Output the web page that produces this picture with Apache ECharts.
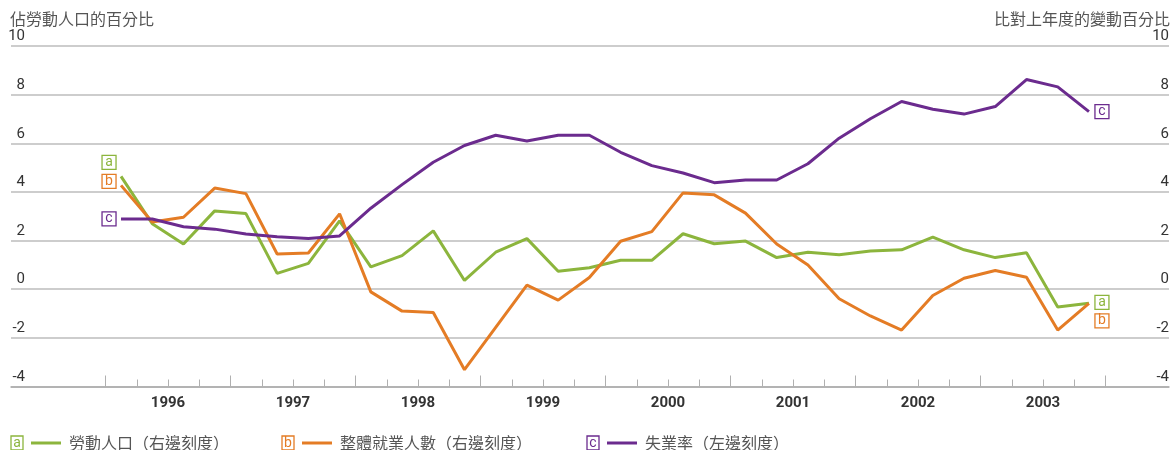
<!DOCTYPE html>
<html>
<head>
<meta charset="utf-8">
<script src="https://cdn.jsdelivr.net/npm/echarts@6/dist/echarts.min.js"></script>
<style>
  html, body { margin: 0; padding: 0; background: #fff; }
  #main { width: 1172px; height: 450px; }
</style>
</head>
<body>
<div id="main"></div>
<script>
// quarterly data, 1996 Q1 .. 2003 Q4
const years = ['1996', '1997', '1998', '1999', '2000', '2001', '2002', '2003'];
const seriesNames = ['勞動人口（右邊刻度）', '整體就業人數（右邊刻度）', '失業率（左邊刻度）'];
const seriesTags = ['a', 'b', 'c'];

// a: labour force, % change over a year earlier (right scale)
const labourForce = [4.64, 2.69, 1.86, 3.22, 3.11, 0.65, 1.06, 2.81,
  0.92, 1.38, 2.40, 0.36, 1.52, 2.08, 0.74, 0.88,
  1.19, 1.19, 2.28, 1.87, 1.98, 1.30, 1.52, 1.42,
  1.57, 1.62, 2.14, 1.62, 1.30, 1.50, -0.73, -0.58];
// b: total employment, % change over a year earlier (right scale)
const employment = [4.27, 2.76, 2.96, 4.16, 3.93, 1.45, 1.49, 3.10,
  -0.11, -0.90, -0.96, -3.31, -1.57, 0.17, -0.45, 0.48,
  1.97, 2.37, 3.96, 3.88, 3.13, 1.86, 1.00, -0.39,
  -1.10, -1.68, -0.26, 0.45, 0.77, 0.49, -1.68, -0.58];
// c: unemployment rate, % of labour force (left scale)
const unemployment = [2.89, 2.89, 2.57, 2.47, 2.27, 2.16, 2.09, 2.19,
  3.33, 4.30, 5.22, 5.91, 6.33, 6.09, 6.33, 6.33,
  5.63, 5.08, 4.78, 4.38, 4.49, 4.49, 5.16, 6.21,
  7.01, 7.72, 7.40, 7.20, 7.51, 8.62, 8.32, 7.30];

const GREEN = '#8cb53d';
const ORANGE = '#e47c25';
const PURPLE = '#6b2b8e';
const GRID_COLOR = '#bdbdbd';
const CJK = '"Noto Sans CJK TC", "Noto Sans", sans-serif';
const NUM = 'Roboto, "Noto Sans", sans-serif';

const quarters = years.flatMap(y => ['Q1', 'Q2', 'Q3', 'Q4'].map(q => y + q));
// x is measured in quarters from the start of 1996; a quarter's point sits mid-band
const toPoints = arr => arr.map((v, i) => [i + 0.5, v]);

const gridTop = 46, gridBottom = 63.5;
const plotLeft = 105.5, quarterPx = 31.25;
const outerLeft = 11, outerRight = 1170;

function tagMarks(letter, color, values, startOff, endOff) {
  const last = values.length - 1;
  return {
    silent: true,
    symbol: 'rect',
    symbolSize: [14, 14],
    itemStyle: { color: '#fff', borderColor: color, borderWidth: 1.3 },
    label: { show: true, formatter: letter, color: color, fontSize: 14, fontFamily: NUM },
    data: [
      { coord: [0.5, values[0]], symbolOffset: startOff },
      { coord: [last + 0.5, values[last]], symbolOffset: endOff }
    ]
  };
}

function legendFor(i, color, left) {
  return {
    data: [seriesNames[i]],
    left: left,
    top: 430,
    icon: 'none',
    itemWidth: 0,
    itemHeight: 16,
    selectedMode: false,
    formatter: name => `{box|${seriesTags[i]}}{gap|}{line|}{gap2|}{txt|${name}}`,
    textStyle: {
      rich: {
        box: { color: color, borderColor: color, borderWidth: 1.3, width: 12, height: 14,
          lineHeight: 14, align: 'center', fontSize: 14, fontFamily: NUM },
        gap: { width: 8 },
        line: { backgroundColor: color, width: 30, height: 3 },
        gap2: { width: 8 },
        txt: { color: '#555', fontSize: 16, fontFamily: CJK }
      }
    }
  };
}

const chart = echarts.init(document.getElementById('main'));

chart.setOption({
  animation: false,
  title: [
    { text: '佔勞動人口的百分比', left: 10, top: 11, padding: 0,
      textStyle: { fontSize: 16, fontWeight: 'normal', color: '#555', fontFamily: CJK } },
    { text: '比對上年度的變動百分比', right: 2, top: 11, padding: 0,
      textStyle: { fontSize: 16, fontWeight: 'normal', color: '#555', fontFamily: CJK } }
  ],
  legend: [
    legendFor(0, GREEN, 1),
    legendFor(1, ORANGE, 272),
    legendFor(2, PURPLE, 577)
  ],
  grid: [
    { left: outerLeft, right: 1172 - outerRight, top: gridTop, bottom: gridBottom },
    { left: plotLeft, width: quarterPx * quarters.length, top: gridTop, bottom: gridBottom }
  ],
  xAxis: [
    {
      gridIndex: 0, type: 'value', position: 'bottom',
      min: (outerLeft - plotLeft) / quarterPx,
      max: (outerRight - plotLeft) / quarterPx,
      axisLine: { show: true, onZero: false, lineStyle: { color: '#aaa', width: 1.5 } },
      axisTick: { show: false },
      axisLabel: { show: false }, splitLine: { show: false }
    },
    {
      gridIndex: 1, type: 'category', position: 'bottom', data: quarters, boundaryGap: true,
      axisLine: { show: false, onZero: false },
      axisTick: { show: true, inside: true, length: 7, interval: 0,
        lineStyle: { color: '#b0b0b0', width: 1 } },
      axisLabel: { show: false }
    },
    {
      gridIndex: 1, type: 'category', position: 'bottom', data: years, boundaryGap: true,
      axisLine: { show: false, onZero: false },
      axisTick: { show: true, inside: true, length: 11, interval: 0,
        lineStyle: { color: '#b0b0b0', width: 1 } },
      axisLabel: { margin: 9, fontSize: 15, fontWeight: 'bold', color: '#333', fontFamily: NUM }
    }
  ],
  yAxis: [
    {
      gridIndex: 0, type: 'value', position: 'left', min: -4, max: 10, interval: 2,
      axisLine: { show: false }, axisTick: { show: false },
      splitLine: { lineStyle: { color: GRID_COLOR, width: 1.5 } },
      axisLabel: { inside: true, margin: 14, align: 'right', verticalAlign: 'bottom',
        padding: [0, 0, 2, 0], fontSize: 15, color: '#333', fontFamily: NUM,
        showMinLabel: true, showMaxLabel: true }
    },
    {
      gridIndex: 0, type: 'value', position: 'right', min: -4, max: 10, interval: 2,
      axisLine: { show: false }, axisTick: { show: false }, splitLine: { show: false },
      axisLabel: { inside: true, margin: 0, align: 'right', verticalAlign: 'bottom',
        padding: [0, 0, 2, 0], fontSize: 15, color: '#333', fontFamily: NUM,
        showMinLabel: true, showMaxLabel: true }
    },
    { gridIndex: 1, type: 'value', show: false }
  ],
  series: [
    {
      name: seriesNames[0], type: 'line', xAxisIndex: 0, yAxisIndex: 1,
      data: toPoints(labourForce), symbol: 'none',
      itemStyle: { color: GREEN }, lineStyle: { color: GREEN, width: 3 },
      markPoint: tagMarks('a', GREEN, labourForce, [-12, -14], [13, -1])
    },
    {
      name: seriesNames[1], type: 'line', xAxisIndex: 0, yAxisIndex: 1,
      data: toPoints(employment), symbol: 'none',
      itemStyle: { color: ORANGE }, lineStyle: { color: ORANGE, width: 3 },
      markPoint: tagMarks('b', ORANGE, employment, [-12, -4], [13, 17.5])
    },
    {
      name: seriesNames[2], type: 'line', xAxisIndex: 0, yAxisIndex: 0,
      data: toPoints(unemployment), symbol: 'none',
      itemStyle: { color: PURPLE }, lineStyle: { color: PURPLE, width: 3 },
      markPoint: tagMarks('c', PURPLE, unemployment, [-12, 0], [13, 0])
    }
  ]
});
</script>
</body>
</html>
